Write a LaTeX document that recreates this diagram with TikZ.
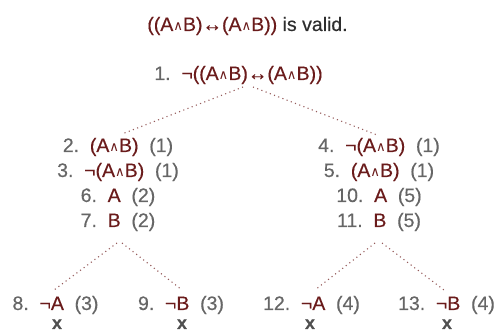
\documentclass[tikz,border=0pt]{standalone}
\usepackage{fontspec}
\setmainfont{Liberation Sans}[FakeBold=0.35]
\newfontfamily\dvs{DejaVu Sans}
\definecolor{fm}{HTML}{6A1B1B}
\definecolor{nm}{HTML}{666666}
\definecolor{tv}{HTML}{2E2E2E}
\definecolor{xm}{HTML}{505050}
\definecolor{ln}{HTML}{955A5A}
\newcommand\myand{\scalebox{0.68}{\dvs ∧}}
\newcommand\mygap{\hspace{0.55em}}
\newcommand\myrow[3]{\textcolor{nm}{#1}\mygap\textcolor{fm}{#2}\mygap\textcolor{nm}{#3}}
\begin{document}
\begin{tikzpicture}[x=1pt,y=-1pt,
  txt/.style={inner sep=0pt,anchor=base,font=\fontsize{19.5}{22}\selectfont},
  closemark/.style={inner sep=0pt,anchor=base,text=xm,font=\fontsize{18}{20}\selectfont\bfseries},
  conn/.style={draw=ln,line width=1.1pt,dash pattern=on 1.1pt off 3.4pt}]
\useasboundingbox (0,0) rectangle (496,331);
\node[txt] (title) at (247.5,31) {\textcolor{fm}{((A\myand B)↔(A\myand B))} \textcolor{tv}{is valid.}};
\node[txt] (n1) at (238.5,80) {\textcolor{nm}{1.}\mygap\textcolor{fm}{¬((A\myand B)↔(A\myand B))}};
\node[txt] (n2) at (118,152) {\myrow{2.}{(A\myand B)}{(1)}};
\node[txt] (n3) at (118,177) {\myrow{3.}{¬(A\myand B)}{(1)}};
\node[txt] (n6) at (118,202) {\myrow{6.}{A}{(2)}};
\node[txt] (n7) at (118,227) {\myrow{7.}{B}{(2)}};
\node[txt] (n4) at (379,152) {\myrow{4.}{¬(A\myand B)}{(1)}};
\node[txt] (n5) at (379,177) {\myrow{5.}{(A\myand B)}{(1)}};
\node[txt] (n10) at (379,202) {\myrow{10.}{A}{(5)}};
\node[txt] (n11) at (379,227) {\myrow{11.}{B}{(5)}};
\node[txt] (n8) at (55.5,310) {\myrow{8.}{¬A}{(3)}};
\node[txt] (n9) at (181,310) {\myrow{9.}{¬B}{(3)}};
\node[txt] (n12) at (311.5,310) {\myrow{12.}{¬A}{(4)}};
\node[txt] (n13) at (446.5,310) {\myrow{13.}{¬B}{(4)}};
\node[closemark] (x8) at (57,329) {x};
\node[closemark] (x9) at (182,329) {x};
\node[closemark] (x12) at (310,329) {x};
\node[closemark] (x13) at (447,329) {x};
\coordinate (a1l) at (243,87);
\coordinate (a1r) at (253,87);
\coordinate (t2) at (122,134);
\coordinate (t4) at (377,135);
\coordinate (a7l) at (117,243);
\coordinate (a7r) at (122,243);
\coordinate (t8) at (54,290);
\coordinate (t9) at (182,290);
\coordinate (a11l) at (375,243);
\coordinate (a11r) at (382,243);
\coordinate (t12) at (315,290);
\coordinate (t13) at (444,290);
\draw[conn] (a1l) -- (t2);
\draw[conn] (a1r) -- (t4);
\draw[conn] (a7l) -- (t8);
\draw[conn] (a7r) -- (t9);
\draw[conn] (a11l) -- (t12);
\draw[conn] (a11r) -- (t13);
\end{tikzpicture}
\end{document}
